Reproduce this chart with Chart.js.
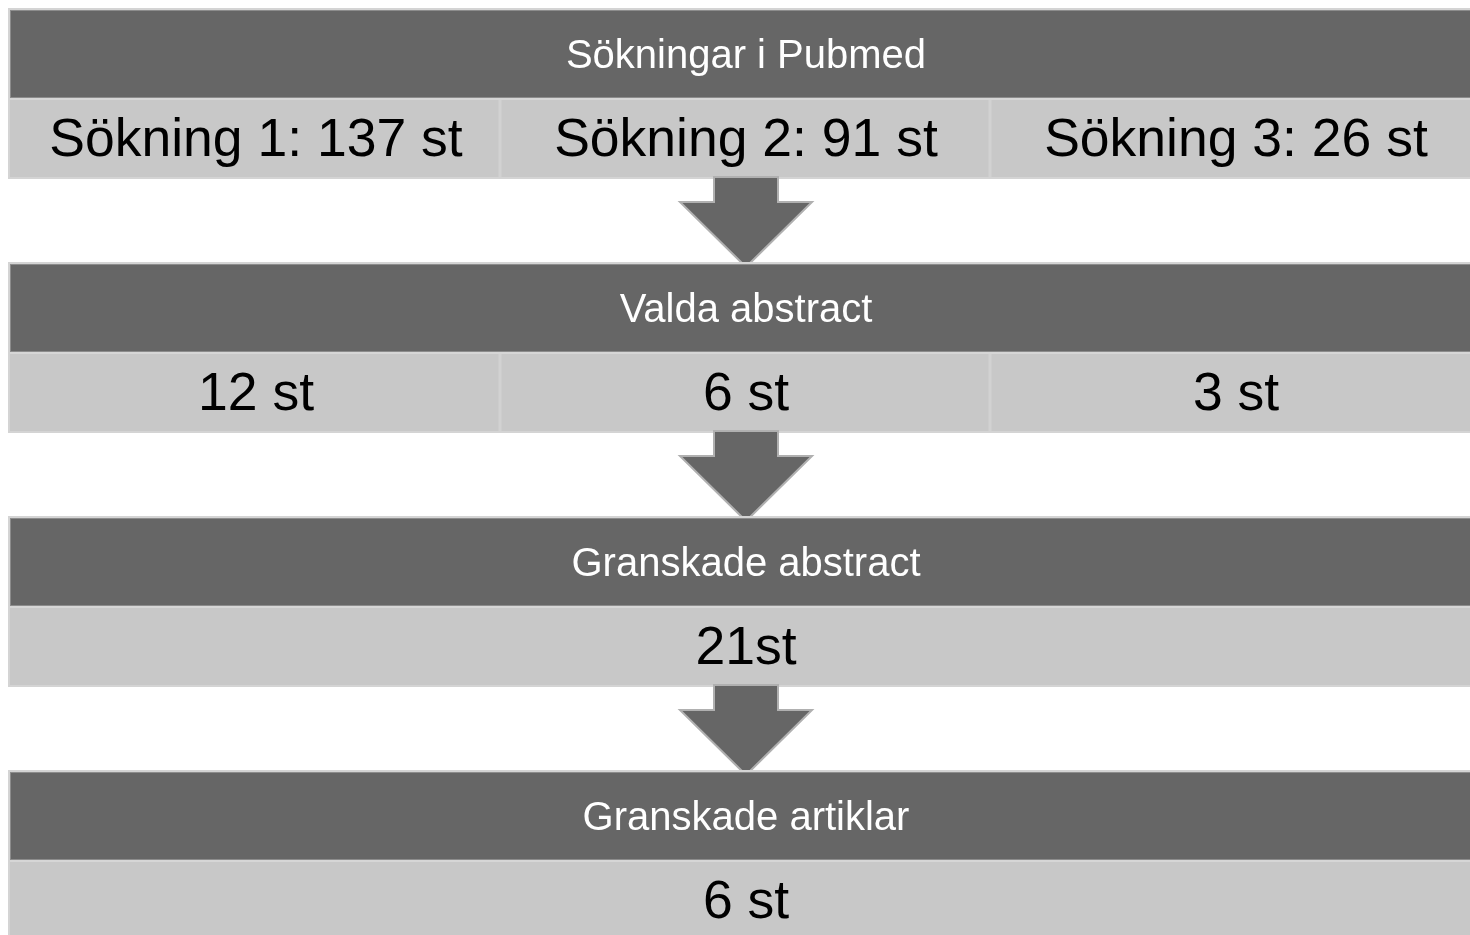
<!DOCTYPE html>
<html>
<head>
<meta charset="utf-8">
<script src="https://cdn.jsdelivr.net/npm/chart.js@4"></script>
<style>
  html, body { margin: 0; padding: 0; background: #ffffff; overflow: hidden; }
  #wrap { width: 1490px; height: 935px; position: relative; }
</style>
</head>
<body>
<div id="wrap"><canvas id="flow"></canvas></div>
<script>
// Stage titles (dark header rows)
const stages = ['Sökningar i Pubmed', 'Valda abstract', 'Granskade abstract', 'Granskade artiklar'];

// Counts per stage
const searchNames = ['Sökning 1', 'Sökning 2', 'Sökning 3'];
const searchHits = [137, 91, 26];
const selectedAbstracts = [12, 6, 3];
const reviewedAbstracts = [21];
const reviewedArticles = [6];

// Text shown in the light cells of each stage
const cellTexts = [
    searchNames.map((n, i) => n + ': ' + searchHits[i] + ' st'),
    selectedAbstracts.map(v => v + ' st'),
    reviewedAbstracts.map(v => v + 'st'),
    reviewedArticles.map(v => v + ' st')
];

// Band heights in y-units (layout only)
const HEAD_H = 88, CELL_H = 79, GAP_H = 87;

const flowPlugin = {
    id: 'flow',
    afterDraw(chart) {
        const ctx = chart.ctx;
        const xs = chart.scales.x;
        const ys = chart.scales.y;
        const px = v => xs.getPixelForValue(v);
        const py = v => ys.getPixelForValue(v);

        ctx.save();
        let top = 0;
        stages.forEach((title, s) => {
            const hTop = py(top), hBot = py(top + HEAD_H), cBot = py(top + HEAD_H + CELL_H);
            const left = px(0), right = px(3);

            // outer light border
            ctx.fillStyle = '#d4d4d4';
            ctx.fillRect(left - 2, hTop - 2, right - left + 4, cBot - hTop + 4);

            // header
            ctx.fillStyle = '#666666';
            ctx.fillRect(left, hTop, right - left, hBot - hTop);
            ctx.strokeStyle = '#8c8c8c';
            ctx.lineWidth = 1;
            ctx.strokeRect(left + 0.5, hTop + 0.5, right - left - 1, hBot - hTop - 1);

            // cells
            const cells = cellTexts[s];
            const w = 3 / cells.length;
            cells.forEach((txt, i) => {
                const x0 = px(i * w), x1 = px((i + 1) * w);
                ctx.fillStyle = '#c8c8c8';
                ctx.fillRect(x0, hBot, x1 - x0, cBot - hBot);
                if (i > 0) {
                    ctx.fillStyle = '#d2d2d2';
                    ctx.fillRect(x0 - 1.5, hBot, 3, cBot - hBot);
                }
                ctx.fillStyle = '#000000';
                ctx.font = '53.5px "Liberation Sans", Arial, sans-serif';
                ctx.textAlign = 'center';
                ctx.textBaseline = 'alphabetic';
                ctx.fillText(txt, (x0 + x1) / 2 + 1, (hBot + cBot) / 2 + 53.5 * 0.355);
            });
            ctx.fillStyle = '#d6d6d6';
            ctx.fillRect(left, hBot, right - left, 2);

            // header text
            ctx.fillStyle = '#ffffff';
            ctx.font = '40px "Liberation Sans", Arial, sans-serif';
            ctx.textAlign = 'center';
            ctx.fillText(title, px(1.5) + 1, (hTop + hBot) / 2 + 40 * 0.36);

            top += HEAD_H + CELL_H;

            // arrow to next stage
            if (s < stages.length - 1) {
                const cx = px(1.5) + 1;
                const shaft = (px(0.0653) - px(0));
                const head = (px(0.1347) - px(0));
                const yA = py(top), yB = py(top + 25), yC = py(top + GAP_H + 3);
                ctx.beginPath();
                ctx.moveTo(cx - shaft, yA);
                ctx.lineTo(cx + shaft, yA);
                ctx.lineTo(cx + shaft, yB);
                ctx.lineTo(cx + head, yB);
                ctx.lineTo(cx, yC);
                ctx.lineTo(cx - head, yB);
                ctx.lineTo(cx - shaft, yB);
                ctx.closePath();
                ctx.fillStyle = '#666666';
                ctx.fill();
                ctx.strokeStyle = '#b0b0b0';
                ctx.lineWidth = 2;
                ctx.stroke();
                top += GAP_H;
            }
        });
        ctx.restore();
    }
};

new Chart('flow', {
    type: 'scatter',
    data: { datasets: [] },
    options: {
        responsive: true,
        maintainAspectRatio: false,
        animation: false,
        layout: { padding: { left: 10, right: 10, top: 10, bottom: 0 } },
        plugins: { legend: { display: false }, tooltip: { enabled: false } },
        scales: {
            x: { type: 'linear', min: 0, max: 3, display: false },
            y: { type: 'linear', min: 0, max: 925, reverse: true, display: false }
        }
    },
    plugins: [flowPlugin]
});
</script>
</body>
</html>
